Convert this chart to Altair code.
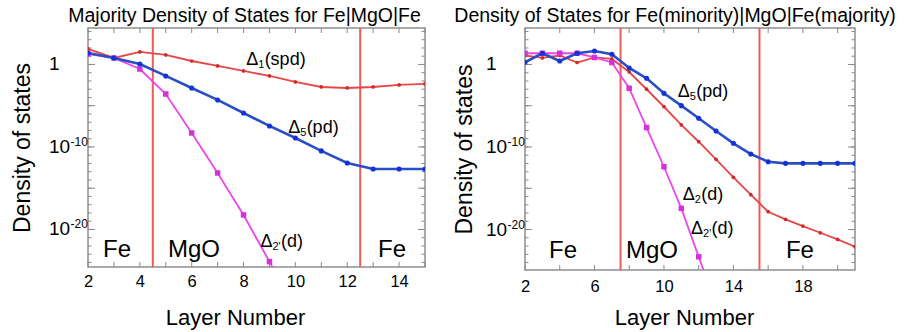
import altair as alt
import pandas as pd

FONT = "Liberation Sans"
RED, RED_PT = "#e54848", "#d22a2a"
BLUE, BLUE_PT = "#2a4fc4", "#1432d8"
MAGENTA, MAGENTA_PT = "#ec45ec", "#d92fd9"
INTERFACE = "#f25a5a"
TICK = "#8a8a8a"
FRAME = "#8f8f8f"

# ---- Fe|MgO|Fe, majority channel: log10(density of states) per layer ----
maj_layers = list(range(2, 16))
maj_delta1 = [1.88, 0.79, 1.52, 1.15, 0.42, -0.18, -0.79, -1.39, -2.12, -2.73,
              -2.85, -2.73, -2.48, -2.36]
maj_delta5 = [1.39, 0.79, 0.06, -1.39, -2.85, -4.30, -5.88, -7.45, -8.91, -10.48,
              -11.94, -12.67, -12.67, -12.67]
maj_delta2p_layers = list(range(2, 11))
maj_delta2p = [1.27, 0.79, -0.55, -3.58, -8.30, -13.15, -18.24, -23.9, -29.5]
maj_interfaces = [4.5, 12.5]
maj_xlabels = [2, 4, 6, 8, 10, 12, 14]
maj_xticks = list(range(2, 16))

# ---- Fe(minority)|MgO|Fe(majority) ----
mix_layers = list(range(2, 22))
mix_delta5 = [0.27, 1.36, 0.42, 1.36, 1.64, 1.24, -0.42, -1.67, -3.49, -4.99,
              -6.52, -8.06, -9.55, -10.85, -11.78, -11.98, -11.98, -11.98, -11.98, -11.98]
mix_delta2 = [1.09, 0.79, 1.09, 0.24, 0.85, 0.67, -0.91, -3.00, -5.12, -7.33,
              -9.36, -11.49, -13.67, -15.76, -17.84, -18.76, -19.58, -20.39, -21.19, -22.08]
mix_delta2p_layers = list(range(2, 14))
mix_delta2p = [1.36, 1.36, 1.36, 1.36, 0.85, 0.24, -2.88, -7.64, -12.39, -17.43,
               -23.3, -29.0]
mix_interfaces = [7.5, 15.5]
mix_xlabels = [2, 6, 10, 14, 18]
mix_xticks = list(range(2, 22, 2))

# ---- decade ticks and labels on the log axis (log10 values) ----
ytick_minor = list(range(-24, 5))
ytick_major = [-20, -15, -10, -5, 0]
ylabel_exps = [0, -10, -20]
ylabel_base = ["1", "10", "10"]
ylabel_sup = ["", "-10", "-20"]


def dos_frame(layers, exps):
    return pd.DataFrame({"layer": layers, "dos": [10.0 ** e for e in exps]})


def panel(cfg):
    W, H = cfg["width"], cfg["height"]
    xs = alt.Scale(domain=cfg["xdomain"], nice=False, zero=False)
    ys = alt.Scale(type="log", domain=[10.0 ** cfg["ydomain"][0], 10.0 ** cfg["ydomain"][1]],
                   nice=False)
    x_axis = alt.Axis(values=cfg["xlabels"], ticks=False, domain=False, grid=False,
                      labelFont=FONT, labelFontSize=16.5, labelColor="black",
                      labelPadding=cfg["xlabel_pad"], labelFlush=False, labelOverlap=False,
                      title="Layer Number", titleFont=FONT, titleFontSize=22,
                      titleFontWeight="normal", titleColor="black",
                      titleX=cfg["xtitle"][0], titleY=cfg["xtitle"][1],
                      titleBaseline="middle", titleAlign="center")
    y_axis = alt.Axis(labels=False, ticks=False, domain=False, grid=False,
                      title="Density of states", titleFont=FONT, titleFontSize=23,
                      titleFontWeight="normal", titleColor="black", titleAngle=270,
                      titleX=cfg["ytitle_x"], titleY=H / 2, titleBaseline="middle",
                      titleAlign="center")

    def X(f):
        return alt.X(f, type="quantitative", scale=xs, axis=x_axis)

    def Y(f):
        return alt.Y(f, type="quantitative", scale=ys, axis=y_axis)

    layers = []

    # interfaces between Fe and MgO
    layers.append(alt.Chart(pd.DataFrame({"layer": cfg["interfaces"]}))
                  .mark_rule(color=INTERFACE, strokeWidth=2)
                  .encode(x=X("layer")))

    # inward frame ticks
    for exps, ln in ((ytick_minor, 3.5), (ytick_major, 7)):
        tdf = pd.DataFrame({"dos": [10.0 ** e for e in exps]})
        layers.append(alt.Chart(tdf).mark_rule(color=TICK, strokeWidth=1)
                      .encode(y=Y("dos"), x=alt.value(0), x2=alt.value(ln)))
        layers.append(alt.Chart(tdf).mark_rule(color=TICK, strokeWidth=1)
                      .encode(y=Y("dos"), x=alt.value(W), x2=alt.value(W - ln)))
    xdf = pd.DataFrame({"layer": cfg["xticks"]})
    layers.append(alt.Chart(xdf).mark_rule(color=TICK, strokeWidth=1)
                  .encode(x=X("layer"), y=alt.value(0), y2=alt.value(5)))
    layers.append(alt.Chart(xdf).mark_rule(color=TICK, strokeWidth=1)
                  .encode(x=X("layer"), y=alt.value(H), y2=alt.value(H - 5)))

    # density-of-states curves
    for df, lc, pc, shape, size, lw in cfg["series"]:
        base = alt.Chart(df).encode(x=X("layer"), y=Y("dos"))
        layers.append(base.mark_line(color=lc, strokeWidth=lw, clip=True))
        layers.append(base.mark_point(shape=shape, filled=True, color=pc, size=size,
                                      opacity=1, clip=True))

    # log-axis labels with superscript exponents
    ydf = pd.DataFrame({"dos": [10.0 ** e for e in ylabel_exps],
                        "base": ylabel_base, "sup": ylabel_sup})
    layers.append(alt.Chart(ydf).mark_text(font=FONT, fontSize=19, align="left",
                                           baseline="middle", color="black")
                  .encode(y=Y("dos"), x=alt.value(-39), text="base"))
    layers.append(alt.Chart(ydf).mark_text(font=FONT, fontSize=12, align="left",
                                           baseline="middle", color="black", dy=-5)
                  .encode(y=Y("dos"), x=alt.value(-39 + 21.5), text="sup"))

    # region names
    rdf = pd.DataFrame(cfg["regions"], columns=["layer", "exp", "name"])
    rdf["dos"] = 10.0 ** rdf["exp"]
    layers.append(alt.Chart(rdf).mark_text(font=FONT, fontSize=24, align="center",
                                           baseline="middle", color="black")
                  .encode(x=X("layer"), y=Y("dos"), text="name"))

    # curve names: Delta, subscript, orbital character
    for layer, exp, sub, rest, subw in cfg["curve_labels"]:
        ldf = pd.DataFrame({"layer": [layer], "dos": [10.0 ** exp],
                            "d": ["Δ"], "s": [sub], "r": [rest]})
        base = alt.Chart(ldf).encode(x=X("layer"), y=Y("dos"))
        layers.append(base.mark_text(font=FONT, fontSize=18, align="left",
                                     baseline="middle", color="black").encode(text="d"))
        layers.append(base.mark_text(font=FONT, fontSize=11, align="left",
                                     baseline="middle", color="black", dx=12, dy=5)
                      .encode(text="s"))
        layers.append(base.mark_text(font=FONT, fontSize=18, align="left",
                                     baseline="middle", color="black", dx=12 + subw)
                      .encode(text="r"))

    return alt.layer(*layers).properties(
        width=W, height=H,
        title=alt.TitleParams(cfg["title"], font=FONT, fontSize=19.5, fontWeight="normal",
                              color="black", anchor="middle", dx=cfg["title_dx"], offset=1),
    )


left = panel({
    "width": 337, "height": 239,
    "xdomain": [2, 15], "ydomain": [-24.55, 4.42],
    "xlabels": maj_xlabels, "xticks": maj_xticks, "interfaces": maj_interfaces,
    "xlabel_pad": 6, "xtitle": [147, 50], "ytitle_x": -65.5,
    "series": [
        (dos_frame(maj_layers, maj_delta1), RED, RED_PT, "circle", 14, 1.8),
        (dos_frame(maj_delta2p_layers, maj_delta2p), MAGENTA, MAGENTA_PT, "square", 30, 1.8),
        (dos_frame(maj_layers, maj_delta5), BLUE, BLUE_PT, "circle", 26, 2.6),
    ],
    "regions": [(3.12, -22.5, "Fe"), (6.09, -22.5, "MgO"), (13.73, -22.5, "Fe")],
    "curve_labels": [(8.10, 0.55, "1", "(spd)", 6.5),
                     (9.72, -7.76, "5", "(pd)", 6.5),
                     (8.65, -21.58, "2'", "(d)", 8.5)],
    "title": "Majority Density of States for Fe|MgO|Fe", "title_dx": -12,
})

right = panel({
    "width": 330, "height": 242,
    "xdomain": [2, 21], "ydomain": [-24.9, 4.42],
    "xlabels": mix_xlabels, "xticks": mix_xticks, "interfaces": mix_interfaces,
    "xlabel_pad": 8, "xtitle": [159, 47], "ytitle_x": -61,
    "series": [
        (dos_frame(mix_layers, mix_delta2), RED, RED_PT, "circle", 14, 1.8),
        (dos_frame(mix_delta2p_layers, mix_delta2p), MAGENTA, MAGENTA_PT, "square", 30, 1.8),
        (dos_frame(mix_layers, mix_delta5), BLUE, BLUE_PT, "circle", 26, 2.6),
    ],
    "regions": [(4.19, -22.6, "Fe"), (9.31, -22.6, "MgO"), (17.83, -22.6, "Fe")],
    "curve_labels": [(10.79, -3.33, "5", "(pd)", 6.5),
                     (11.08, -15.8, "2", "(d)", 6.5),
                     (11.56, -19.88, "2'", "(d)", 8.5)],
    "title": "Density of States for Fe(minority)|MgO|Fe(majority)", "title_dx": -15,
})

chart = (
    alt.hconcat(left, right, spacing=100, bounds="flush")
    .properties(padding={"left": 10, "top": 4, "right": 4, "bottom": 2}, background="white")
    .configure_view(stroke=FRAME, strokeWidth=1.5)
)

chart.save("out.html", embed_options={"renderer": "svg", "actions": False})
